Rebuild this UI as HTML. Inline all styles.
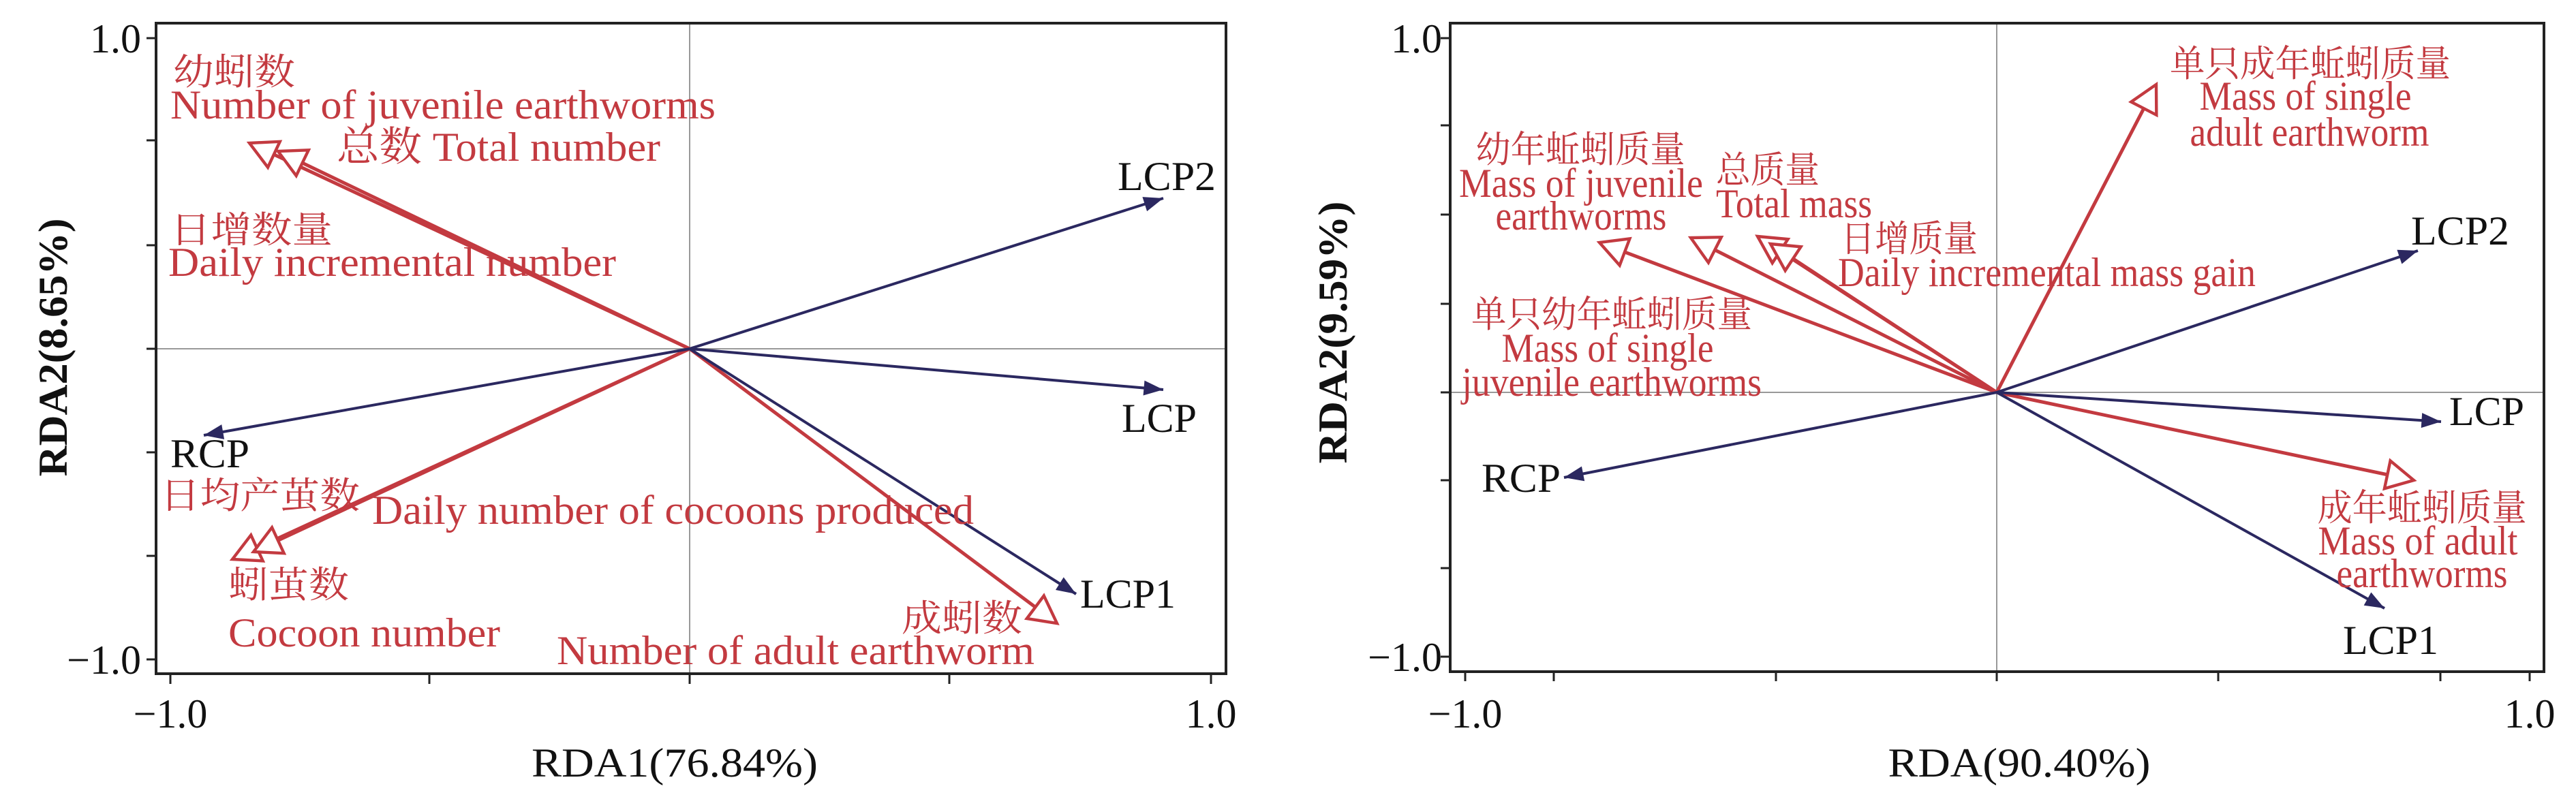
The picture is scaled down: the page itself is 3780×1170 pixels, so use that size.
<!DOCTYPE html>
<html><head><meta charset="utf-8"><style>
html,body{margin:0;padding:0;background:#fff}
svg{display:block}
.r{fill:#c33a40;font-family:"Liberation Serif","Noto Serif CJK SC",serif;font-size:60px}
.c{fill:#c33a40;font-family:"Noto Serif CJK SC","Noto Sans CJK SC",serif;font-size:54px}
.k{fill:#111;font-family:"Liberation Serif",serif;font-size:60px}
.t{fill:#111;font-family:"Liberation Serif",serif;font-size:60px}
</style></head><body>
<svg width="3780" height="1170" viewBox="0 0 3780 1170" xmlns="http://www.w3.org/2000/svg">
<defs>
<marker id="rb" viewBox="0 0 10 10" refX="10" refY="5" markerWidth="11" markerHeight="11" markerUnits="userSpaceOnUse" orient="auto" style="overflow:visible">
<path d="M-36,-14 L0,5 L-36,24 Z" transform="translate(10,0)" fill="#fff" stroke="#c33a40" stroke-width="4"/></marker>
<marker id="bb" viewBox="0 0 10 10" refX="10" refY="5" markerWidth="11" markerHeight="11" markerUnits="userSpaceOnUse" orient="auto" style="overflow:visible">
<path d="M-26,-5 L0,5 L-26,15 Z" transform="translate(10,0)" fill="#2b2860"/></marker>
</defs>

<!-- LEFT PLOT -->
<g stroke="#999" stroke-width="2"><line x1="1012" y1="34" x2="1012" y2="989"/><line x1="229" y1="512" x2="1799" y2="512"/></g>
<rect x="229" y="34" width="1570" height="955" fill="none" stroke="#222" stroke-width="4"/>
<g stroke="#222" stroke-width="3">
<line x1="215" y1="56" x2="229" y2="56"/><line x1="215" y1="206" x2="229" y2="206"/><line x1="215" y1="360" x2="229" y2="360"/><line x1="215" y1="512" x2="229" y2="512"/><line x1="215" y1="664" x2="229" y2="664"/><line x1="215" y1="816" x2="229" y2="816"/><line x1="215" y1="968" x2="229" y2="968"/>
<line x1="250" y1="989" x2="250" y2="1004"/><line x1="630" y1="989" x2="630" y2="1004"/><line x1="1012" y1="989" x2="1012" y2="1004"/><line x1="1393" y1="989" x2="1393" y2="1004"/><line x1="1777" y1="989" x2="1777" y2="1004"/>
</g>
<text class="t" x="207" y="77" text-anchor="end">1.0</text>
<text class="t" x="207" y="989" text-anchor="end">−1.0</text>
<text class="t" x="250" y="1068" text-anchor="middle">−1.0</text>
<text class="t" x="1777" y="1068" text-anchor="middle">1.0</text>
<text class="t" x="990" y="1140" text-anchor="middle" font-size="64" textLength="420" lengthAdjust="spacingAndGlyphs">RDA1(76.84%)</text>
<text class="t" font-weight="bold" font-size="60" text-anchor="middle" transform="translate(98,510) rotate(-90)" textLength="379" lengthAdjust="spacingAndGlyphs">RDA2(8.65%)</text>

<g stroke="#c33a40" stroke-width="5" fill="none">
<line x1="1012" y1="512" x2="366" y2="210" marker-end="url(#rb)"/>
<line x1="1012" y1="512" x2="408" y2="222" marker-end="url(#rb)"/>
<line x1="1012" y1="512" x2="341" y2="821" marker-end="url(#rb)"/>
<line x1="1012" y1="512" x2="372" y2="810" marker-end="url(#rb)"/>
<line x1="1012" y1="512" x2="1551" y2="915" marker-end="url(#rb)"/>
</g>
<g stroke="#2b2860" stroke-width="4">
<line x1="1012" y1="512" x2="1707" y2="291" marker-end="url(#bb)"/>
<line x1="1012" y1="512" x2="1707" y2="572" marker-end="url(#bb)"/>
<line x1="1012" y1="512" x2="299" y2="639" marker-end="url(#bb)"/>
<line x1="1012" y1="512" x2="1579" y2="872" marker-end="url(#bb)"/>
</g>
<text class="c" x="254" y="124" textLength="179" lengthAdjust="spacingAndGlyphs">幼蚓数</text>
<text class="r" x="250" y="174" textLength="800" lengthAdjust="spacingAndGlyphs">Number of juvenile earthworms</text>
<text class="r" x="494" y="236" textLength="475" lengthAdjust="spacingAndGlyphs">总数 Total number</text>
<text class="c" x="250" y="356" textLength="238" lengthAdjust="spacingAndGlyphs">日增数量</text>
<text class="r" x="247" y="405" textLength="657" lengthAdjust="spacingAndGlyphs">Daily incremental number</text>
<text class="k" x="250" y="686" textLength="116" lengthAdjust="spacingAndGlyphs">RCP</text>
<text class="c" x="235" y="746" textLength="293" lengthAdjust="spacingAndGlyphs">日均产茧数</text>
<text class="r" x="546" y="769" textLength="883" lengthAdjust="spacingAndGlyphs">Daily number of cocoons produced</text>
<text class="c" x="335" y="877" textLength="177" lengthAdjust="spacingAndGlyphs">蚓茧数</text>
<text class="r" x="335" y="949" textLength="399" lengthAdjust="spacingAndGlyphs">Cocoon number</text>
<text class="c" x="1323" y="926" textLength="177" lengthAdjust="spacingAndGlyphs">成蚓数</text>
<text class="r" x="817" y="975" textLength="701" lengthAdjust="spacingAndGlyphs">Number of adult earthworm</text>
<text class="k" x="1640" y="279" textLength="144" lengthAdjust="spacingAndGlyphs">LCP2</text>
<text class="k" x="1646" y="634" textLength="110" lengthAdjust="spacingAndGlyphs">LCP</text>
<text class="k" x="1585" y="892" textLength="140" lengthAdjust="spacingAndGlyphs">LCP1</text>

<!-- RIGHT PLOT -->
<g stroke="#999" stroke-width="2"><line x1="2930" y1="34" x2="2930" y2="986"/><line x1="2128" y1="576" x2="3733" y2="576"/></g>
<rect x="2128" y="34" width="1605" height="952" fill="none" stroke="#222" stroke-width="4"/>
<g stroke="#222" stroke-width="3">
<line x1="2114" y1="56" x2="2128" y2="56"/><line x1="2114" y1="184" x2="2128" y2="184"/><line x1="2114" y1="315" x2="2128" y2="315"/><line x1="2114" y1="446" x2="2128" y2="446"/><line x1="2114" y1="576" x2="2128" y2="576"/><line x1="2114" y1="705" x2="2128" y2="705"/><line x1="2114" y1="834" x2="2128" y2="834"/><line x1="2114" y1="964" x2="2128" y2="964"/>
<line x1="2150" y1="986" x2="2150" y2="1000"/><line x1="2280" y1="986" x2="2280" y2="1000"/><line x1="2606" y1="986" x2="2606" y2="1000"/><line x1="2930" y1="986" x2="2930" y2="1000"/><line x1="3255" y1="986" x2="3255" y2="1000"/><line x1="3581" y1="986" x2="3581" y2="1000"/><line x1="3712" y1="986" x2="3712" y2="1000"/>
</g>
<text class="t" x="2116" y="77" text-anchor="end">1.0</text>
<text class="t" x="2116" y="985" text-anchor="end">−1.0</text>
<text class="t" x="2150" y="1068" text-anchor="middle">−1.0</text>
<text class="t" x="3712" y="1068" text-anchor="middle">1.0</text>
<text class="t" x="2963" y="1140" text-anchor="middle" font-size="64" textLength="385" lengthAdjust="spacingAndGlyphs">RDA(90.40%)</text>
<text class="t" font-weight="bold" font-size="60" text-anchor="middle" transform="translate(1976,488) rotate(-90)" textLength="385" lengthAdjust="spacingAndGlyphs">RDA2(9.59%)</text>

<g stroke="#c33a40" stroke-width="5" fill="none">
<line x1="2930" y1="576" x2="3164" y2="124" marker-end="url(#rb)"/>
<line x1="2930" y1="576" x2="2347" y2="356" marker-end="url(#rb)"/>
<line x1="2930" y1="576" x2="2481" y2="349" marker-end="url(#rb)"/>
<line x1="2930" y1="576" x2="2579" y2="347" marker-end="url(#rb)"/>
<line x1="2930" y1="576" x2="2598" y2="358" marker-end="url(#rb)"/>
<line x1="2930" y1="576" x2="3542" y2="705" marker-end="url(#rb)"/>
</g>
<g stroke="#2b2860" stroke-width="4">
<line x1="2930" y1="576" x2="3548" y2="368" marker-end="url(#bb)"/>
<line x1="2930" y1="576" x2="3582" y2="619" marker-end="url(#bb)"/>
<line x1="2930" y1="576" x2="2295" y2="701" marker-end="url(#bb)"/>
<line x1="2930" y1="576" x2="3499" y2="893" marker-end="url(#bb)"/>
</g>
<g text-anchor="middle">
<text class="c" x="3390" y="112" textLength="412" lengthAdjust="spacingAndGlyphs">单只成年蚯蚓质量</text>
<text class="r" x="3383" y="161" textLength="311" lengthAdjust="spacingAndGlyphs">Mass of single</text>
<text class="r" x="3389" y="214" textLength="351" lengthAdjust="spacingAndGlyphs">adult earthworm</text>
<text class="c" x="2319" y="238" textLength="307" lengthAdjust="spacingAndGlyphs">幼年蚯蚓质量</text>
<text class="r" x="2320" y="289" textLength="358" lengthAdjust="spacingAndGlyphs">Mass of juvenile</text>
<text class="r" x="2320" y="337" textLength="251" lengthAdjust="spacingAndGlyphs">earthworms</text>
<text class="c" x="2365" y="480" textLength="412" lengthAdjust="spacingAndGlyphs">单只幼年蚯蚓质量</text>
<text class="r" x="2359" y="531" textLength="311" lengthAdjust="spacingAndGlyphs">Mass of single</text>
<text class="r" x="2365" y="581" textLength="440" lengthAdjust="spacingAndGlyphs">juvenile earthworms</text>
<text class="c" x="3554" y="764" textLength="307" lengthAdjust="spacingAndGlyphs">成年蚯蚓质量</text>
<text class="r" x="3548" y="814" textLength="293" lengthAdjust="spacingAndGlyphs">Mass of adult</text>
<text class="r" x="3554" y="862" textLength="251" lengthAdjust="spacingAndGlyphs">earthworms</text>
</g>
<text class="c" x="2518" y="268" textLength="152" lengthAdjust="spacingAndGlyphs">总质量</text>
<text class="r" x="2518" y="319" textLength="229" lengthAdjust="spacingAndGlyphs">Total mass</text>
<text class="c" x="2701" y="369" textLength="201" lengthAdjust="spacingAndGlyphs">日增质量</text>
<text class="r" x="2697" y="420" textLength="613" lengthAdjust="spacingAndGlyphs">Daily incremental mass gain</text>
<text class="k" x="2174" y="722" textLength="116" lengthAdjust="spacingAndGlyphs">RCP</text>
<text class="k" x="3538" y="359" textLength="144" lengthAdjust="spacingAndGlyphs">LCP2</text>
<text class="k" x="3594" y="624" textLength="110" lengthAdjust="spacingAndGlyphs">LCP</text>
<text class="k" x="3438" y="960" textLength="140" lengthAdjust="spacingAndGlyphs">LCP1</text>
</svg>
</body></html>
